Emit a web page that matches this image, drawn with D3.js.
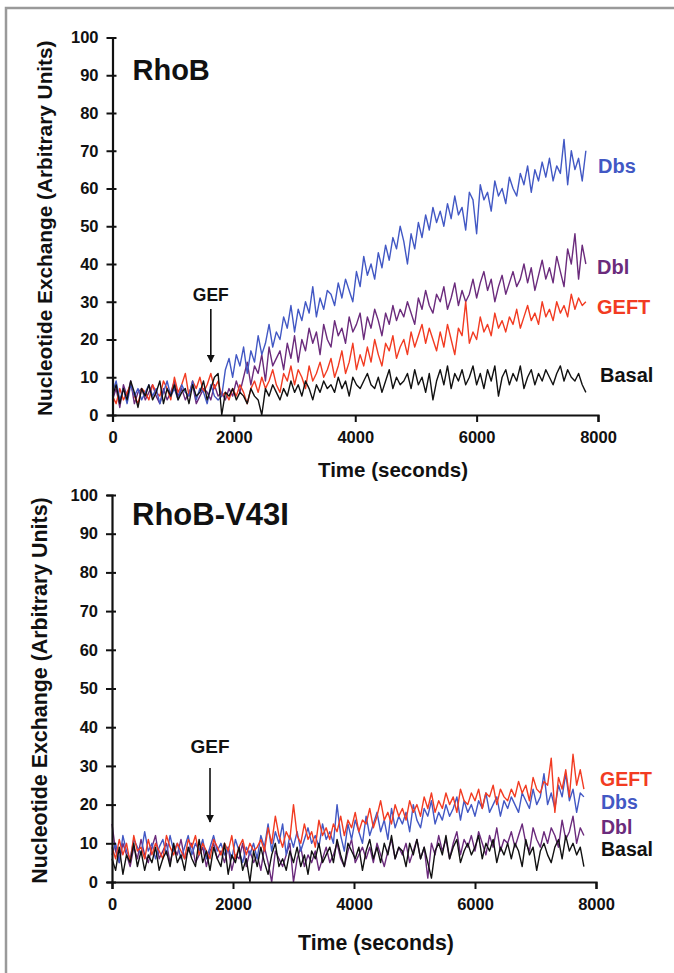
<!DOCTYPE html>
<html><head><meta charset="utf-8">
<script src="https://cdn.jsdelivr.net/npm/d3@7"></script>
<style>
html,body{margin:0;padding:0;background:#fff;}
text{font-family:Arial,"Liberation Sans",sans-serif;font-weight:bold;}
</style></head>
<body><svg id="c" width="674" height="973"></svg>
<script>
// time step 60 s, 0..7800 s
const timeStep = 60;
const xTicks = [0, 2000, 4000, 6000, 8000];
const yTicks = [0, 10, 20, 30, 40, 50, 60, 70, 80, 90, 100];

// Panel 1: RhoB
const rhoB_Basal = [5,8,3,7,4,9,6,2,7,5, 8,4,6,9,3,7,5,8,4,6, 7,3,8,5,6,9,4,7,10,11,
 0,6,5,7,4,6,5,3,7,5, 4,0,7,5,8,6,4,7,5,9, 6,8,5,9,7,4,8,6,9,7, 8,6,10,7,9,5,10,8,7,9,
 11,8,7,10,6,9,12,7,10,8, 9,11,7,12,8,10,6,11,4,9, 12,8,13,7,11,9,12,8,10,13,
 8,11,7,12,9,13,5,10,12,8, 11,9,13,7,10,12,8,11,9,12, 10,8,11,13,9,12,10,9,11,8, 6];
const rhoB_Dbs = [6,9,4,7,3,8,5,7,4,6, 8,5,7,3,6,9,5,7,4,8, 6,5,9,4,7,6,3,8,5,4,
 5,12,15,10,16,13,18,11,17,14, 21,16,19,24,18,22,20,26,23,29, 22,28,25,30,27,34,26,31,28,33,
 32,29,35,31,36,33,30,38,34,42, 37,40,36,43,39,45,41,47,44,50, 46,40,48,44,51,47,53,49,55,51,
 54,50,56,52,58,53,55,49,59,57, 48,61,57,59,54,62,58,60,56,63, 60,58,64,61,66,59,65,62,67,63,
 68,62,66,64,73,61,70,65,68,62, 70];
const rhoB_Dbl = [4,7,2,8,5,9,3,6,7,4, 6,8,5,3,7,4,6,9,5,7, 4,6,8,3,5,7,6,4,8,5,
 6,4,7,5,9,6,10,14,8,13, 11,16,9,18,13,15,17,12,19,15, 21,14,20,17,23,19,22,16,24,20,
 18,25,21,23,19,26,22,24,27,20, 26,23,28,25,21,27,24,29,25,28, 26,30,27,24,31,28,33,29,27,32,
 30,34,28,31,35,29,33,30,32,36, 31,35,38,33,36,30,34,37,32,35, 38,34,36,40,35,39,33,37,41,36,
 39,35,42,38,34,44,40,48,36,45, 40];
const rhoB_GEFT = [5,3,7,4,6,8,5,3,7,6, 4,8,6,5,9,7,4,10,6,8, 11,5,9,7,10,6,8,11,7,9,
 5,6,4,7,5,8,6,3,7,9, 6,10,7,9,12,8,6,11,9,13, 8,12,10,7,13,9,11,14,10,12,
 15,10,13,17,11,14,19,12,16,13, 18,14,20,16,13,19,17,21,15,18, 20,16,22,18,21,24,19,23,20,17,
 22,18,24,20,16,23,21,30,19,22, 20,26,22,24,21,27,23,25,22,26, 24,28,23,26,29,25,27,24,30,26,
 28,25,30,27,29,26,32,28,31,29, 30];

// Panel 2: RhoB-V43I
const v43i_Basal = [6,3,9,2,7,5,10,4,8,3, 7,5,9,3,6,8,4,10,5,7, 3,9,6,4,11,5,8,3,9,6,
 4,10,2,7,5,9,3,6,0,8, 4,9,5,2,7,10,4,6,3,8, 5,9,4,7,2,8,6,10,5,7,
 9,5,11,7,4,10,8,6,9,3, 8,11,6,9,5,10,7,12,6,9, 8,4,10,7,11,6,9,5,1,8,
 10,7,12,6,9,11,5,8,10,7, 9,12,6,10,8,11,5,9,7,10, 6,10,8,4,11,7,9,3,8,10,
 7,5,9,11,6,12,8,10,7,9, 4];
const v43i_Dbl = [15,8,5,10,7,4,9,6,11,7, 5,9,12,6,8,10,5,9,7,11, 6,8,10,5,7,9,4,8,10,6,
 8,5,9,3,7,6,10,4,8,5, 7,3,9,5,0,8,6,4,7,10, 0,6,9,4,7,5,8,3,6,9,
 5,7,10,6,4,8,11,5,7,9, 6,9,5,10,7,4,8,11,6,9, 7,10,5,8,11,6,9,1,10,7,
 12,8,11,6,10,13,7,11,9,12, 8,13,10,7,12,9,14,8,11,10, 13,9,12,15,10,8,14,11,9,13,
 10,14,12,9,16,11,13,17,10,14, 12];
const v43i_Dbs = [7,10,5,12,8,6,11,9,7,13, 8,10,6,9,11,7,12,8,10,6, 9,12,7,10,8,11,6,9,12,8,
 10,7,9,6,11,8,5,9,7,10, 6,12,9,15,8,13,10,15,7,12, 9,13,8,11,14,10,12,9,15,11,
 13,10,20,12,8,15,11,16,13,10, 17,12,15,18,13,16,11,19,14,17, 15,18,13,20,16,14,19,17,21,15,
 18,16,20,17,19,22,16,21,18,20, 17,21,19,23,18,20,22,17,21,19, 22,20,18,23,21,19,24,20,22,28,
 20,23,19,25,22,28,21,24,18,23, 22];
const v43i_GEFT = [9,6,11,7,10,5,12,8,9,6, 11,7,10,8,6,12,9,7,10,8, 6,11,9,12,7,10,8,6,11,9,
 7,10,8,12,6,9,11,7,10,8, 9,11,8,14,10,17,12,9,13,11, 20,12,10,15,11,13,9,16,12,14,
 11,15,13,17,12,16,14,18,13,16, 15,19,14,17,21,16,18,15,20,17, 19,16,21,18,20,17,22,19,23,18,
 21,19,23,20,22,18,24,21,20,23, 21,24,19,23,22,25,20,24,22,21, 24,22,26,23,25,21,27,24,23,26,
 25,32,18,27,24,29,22,33,25,29, 24];

const colors = {Dbs:"#4258c4", Dbl:"#6b2b7c", GEFT:"#f23b22", Basal:"#111111"};

const panels = [
  {title:"RhoB", titleSize:29, top:37.5, bottom:415, left:112.5, right:598, titleY:80,
   xTitleX:393, xTitleY:477, xTitleSize:20.5, yTitleX:46, yTitleSize:20.8,
   gef:{x:1620, textY:301, size:17.5, y1:309, y2:362},
   labelSize:20, series:[["Dbl",rhoB_Dbl],["GEFT",rhoB_GEFT],["Dbs",rhoB_Dbs],["Basal",rhoB_Basal]],
   labels:[["Dbs",598,168],["Dbl",597,269],["GEFT",597,309],["Basal",600,377]]},
  {title:"RhoB-V43I", titleSize:31, top:495, bottom:882, left:112, right:596, titleY:525,
   xTitleX:376, xTitleY:950, xTitleSize:21.3, yTitleX:41, yTitleSize:21.4,
   gef:{x:1620, textY:753, size:19, y1:768, y2:822},
   labelSize:19.5, series:[["Dbl",v43i_Dbl],["Dbs",v43i_Dbs],["GEFT",v43i_GEFT],["Basal",v43i_Basal]],
   labels:[["GEFT",600,781],["Dbs",601,804],["Dbl",601,829],["Basal",601,851]]}
];

const svg = d3.select("#c");
svg.append("rect").attr("width",674).attr("height",973).attr("fill","#fff");
// frame
svg.append("path").attr("d","M6,973 L6,8 L674,8").attr("fill","none").attr("stroke","#9a9a9a").attr("stroke-width",2.5);

svg.append("defs").append("marker").attr("id","arr").attr("viewBox","0 0 10 10")
  .attr("refX",9).attr("refY",5).attr("markerWidth",5).attr("markerHeight",5).attr("orient","auto")
  .append("path").attr("d","M0,0 L10,5 L0,10 z").attr("fill","#111");

panels.forEach(p => {
  const x = d3.scaleLinear().domain([0,8000]).range([p.left,p.right]);
  const y = d3.scaleLinear().domain([0,100]).range([p.bottom,p.top]);
  const g = svg.append("g");

  // lines
  const line = d3.line().x((d,i)=>x(i*timeStep)).y(d=>y(d));
  p.series.forEach(([name,vals]) => {
    g.append("path").datum(vals).attr("d",line).attr("fill","none")
      .attr("stroke",colors[name]).attr("stroke-width",1.4).attr("stroke-linejoin","round");
  });

  // y axis
  const ya = g.append("g").attr("transform",`translate(${p.left},0)`)
    .call(d3.axisLeft(y).tickValues(yTicks).tickSize(5).tickPadding(9));
  ya.select(".domain").attr("stroke","#111").attr("stroke-width",2.2);
  ya.selectAll(".tick line").attr("stroke","#111").attr("stroke-width",2).attr("x2",-6).attr("x1",4);
  ya.selectAll(".tick text").attr("font-size",16.5).attr("fill","#111").attr("font-family","Arial, Liberation Sans, sans-serif").attr("font-weight","bold");
  // x axis
  const xa = g.append("g").attr("transform",`translate(0,${p.bottom})`)
    .call(d3.axisBottom(x).tickValues(xTicks).tickFormat(d3.format("d")).tickSize(7).tickPadding(9));
  xa.select(".domain").attr("stroke","#111").attr("stroke-width",2.2);
  xa.selectAll(".tick line").attr("stroke","#111").attr("stroke-width",2);
  xa.selectAll(".tick text").attr("font-size",16.5).attr("fill","#111").attr("font-family","Arial, Liberation Sans, sans-serif").attr("font-weight","bold");

  // titles
  g.append("text").attr("x",p.left+20).attr("y",p.titleY).attr("font-size",p.titleSize).attr("fill","#111").text(p.title);
  g.append("text").attr("x",p.xTitleX).attr("y",p.xTitleY).attr("text-anchor","middle").attr("font-size",p.xTitleSize).attr("fill","#111").text("Time (seconds)");
  g.append("text").attr("transform",`translate(${p.yTitleX},${(p.top+p.bottom)/2+2}) rotate(-90)`)
    .attr("text-anchor","middle").attr("dominant-baseline","middle").attr("font-size",p.yTitleSize).attr("fill","#111")
    .text("Nucleotide Exchange (Arbitrary Units)");

  // GEF arrow
  g.append("text").attr("x",x(p.gef.x)).attr("y",p.gef.textY).attr("text-anchor","middle").attr("font-size",p.gef.size).attr("fill","#111").text("GEF");
  g.append("line").attr("x1",x(p.gef.x)).attr("x2",x(p.gef.x)).attr("y1",p.gef.y1).attr("y2",p.gef.y2)
    .attr("stroke","#111").attr("stroke-width",1.6).attr("marker-end","url(#arr)");

  // series labels
  p.labels.forEach(([name,xx,yy]) => {
    g.append("text").attr("x",xx).attr("y",yy).attr("dominant-baseline","middle").attr("font-size",p.labelSize)
      .attr("fill",colors[name]).text(name);
  });
});
</script></body></html>
